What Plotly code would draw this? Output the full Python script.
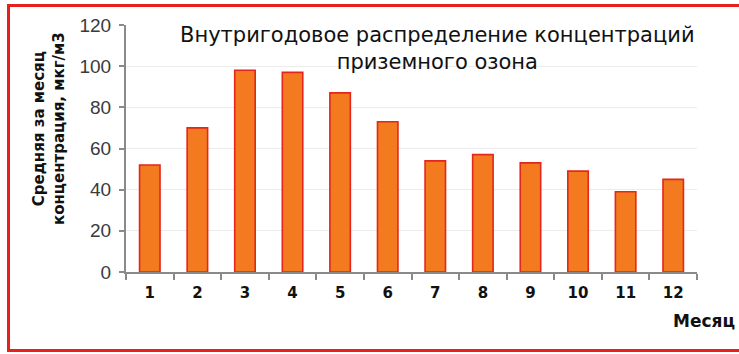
import plotly.graph_objects as go

# Monthly mean ground-level ozone concentration, µg/m3
months = ["1", "2", "3", "4", "5", "6", "7", "8", "9", "10", "11", "12"]
ozone = [52, 70, 98, 97, 87, 73, 54, 57, 53, 49, 39, 45]
y_ticks = [0, 20, 40, 60, 80, 100, 120]

W, H = 739, 354
L, R, T, B = 126, 42, 25, 82
pw, ph = W - L - R, H - T - B


def px_x(p):
    return (p - L) / pw


def px_y(p):
    return (H - B - p) / ph


fig = go.Figure()
fig.add_trace(go.Bar(
    x=months, y=ozone,
    marker=dict(color="#F37A1F", line=dict(color="#E4261C", width=1.6)),
    width=0.43,
    hoverinfo="x+y",
))

fig.update_layout(
    width=W, height=H,
    margin=dict(l=L, r=R, t=T, b=B),
    paper_bgcolor="white", plot_bgcolor="white",
    showlegend=False,
    font=dict(family="DejaVu Sans", color="#222222"),
    xaxis=dict(
        type="category",
        showline=True, linecolor="#8a8a8a", linewidth=2,
        ticks="outside", tickson="boundaries", ticklen=6, tickcolor="#8a8a8a", tickwidth=1.5,
        tickfont=dict(family="DejaVu Sans", size=15, color="#111111", weight="bold"),
        ticklabelstandoff=6,
        showgrid=False,
    ),
    yaxis=dict(
        range=[0, 120], tickvals=y_ticks,
        showline=True, linecolor="#8a8a8a", linewidth=2,
        ticks="outside", ticklen=5, tickcolor="#8a8a8a", tickwidth=1.5,
        tickfont=dict(family="Liberation Sans", size=19, color="#3a3a3a"),
        ticklabelstandoff=4,
        showgrid=True, gridcolor="#ececec", gridwidth=1,
        zeroline=False,
    ),
)

# Chart title inside the plotting area
fig.add_annotation(
    x=px_x(438), y=px_y(48), xref="paper", yref="paper",
    text="Внутригодовое распределение концентраций<br>приземного озона",
    showarrow=False, xanchor="center", yanchor="middle",
    font=dict(family="DejaVu Sans", size=21, color="#111111"),
)

# Y axis title
fig.add_annotation(
    x=px_x(49), y=px_y(129), xref="paper", yref="paper",
    text="Средняя за месяц<br>концентрация, мкг/м3",
    textangle=-90, showarrow=False, xanchor="center", yanchor="middle",
    font=dict(family="DejaVu Sans", size=15, color="#111111", weight="bold"),
)

# X axis title
fig.add_annotation(
    x=px_x(737), y=px_y(321), xref="paper", yref="paper",
    text="Месяц", showarrow=False, xanchor="right", yanchor="middle",
    font=dict(family="DejaVu Sans", size=17, color="#111111", weight="bold"),
)

# Red frame around the chart
fig.add_shape(
    type="rect", xref="paper", yref="paper",
    x0=px_x(8.5), x1=px_x(760), y0=px_y(350.5), y1=px_y(5.5),
    line=dict(color="#E8201C", width=3), fillcolor="rgba(0,0,0,0)",
    layer="above",
)

fig.write_html("out.html")
